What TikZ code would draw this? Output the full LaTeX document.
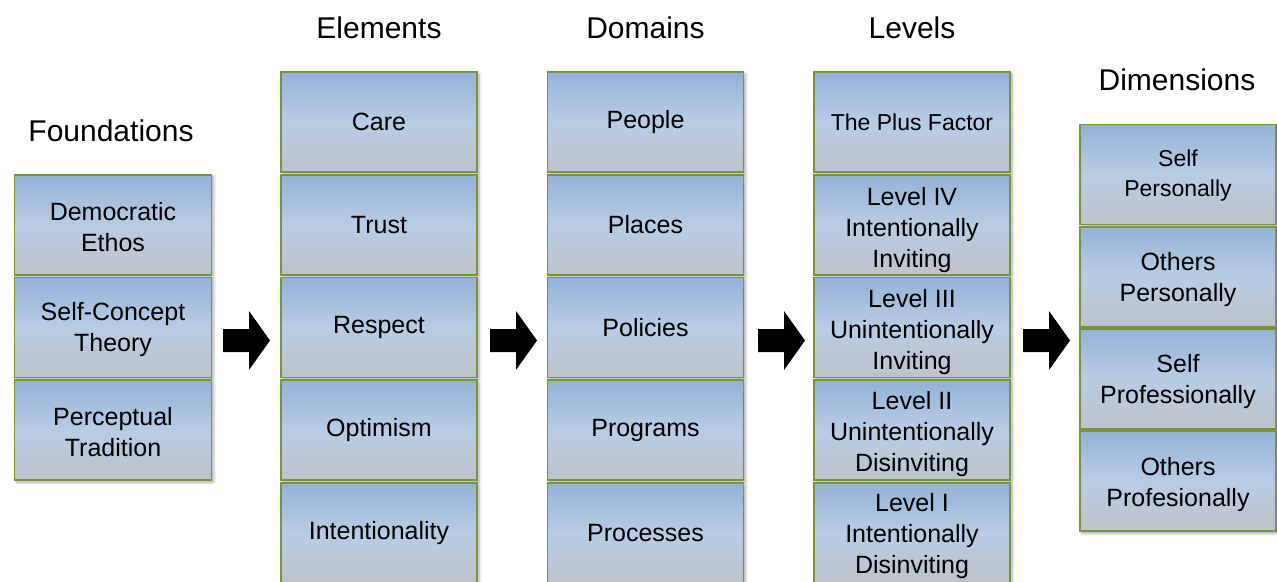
\documentclass[tikz,border=0pt]{standalone}
\usepackage{fontspec}
\setmainfont{Liberation Sans}
\usetikzlibrary{shadows.blur}
\definecolor{boxgreen}{HTML}{77933C}
\definecolor{boxtop}{HTML}{94B2D7}
\definecolor{boxmid}{HTML}{B9CCE5}
\definecolor{boxbot}{HTML}{BEC3CA}
\tikzset{
  box/.style={draw=boxgreen, line width=1.8pt,
    top color=boxtop, bottom color=boxbot, middle color=boxmid,
    minimum width=196pt, minimum height=100pt, inner sep=0pt, align=center,
    font=\fontsize{25}{31}\selectfont,
    blur shadow={shadow xshift=2pt, shadow yshift=-2pt, shadow blur steps=6, shadow opacity=35, shadow blur radius=3pt}},
  btext/.style={inner sep=0pt, align=center, font=\fontsize{25}{31}\selectfont},
  title/.style={font=\fontsize{30}{34}\selectfont, inner sep=0pt},
  blockarrow/.pic={\fill[black] (0,-11.5) -- (26,-11.5) -- (26,-29.5) -- (47,0) -- (26,29.5) -- (26,11.5) -- (0,11.5) -- cycle;}
}
\begin{document}
\begin{tikzpicture}[x=1pt,y=-1pt]
\useasboundingbox (0,0) rectangle (1277,581);
\clip (0,0) rectangle (1277,581);
% titles
\node[title] (tF) at (111,131) {Foundations};
\node[title] (tE) at (379,28) {Elements};
\node[title] (tD) at (645.5,28) {Domains};
\node[title] (tL) at (912,28) {Levels};
\node[title] (tM) at (1177,80) {Dimensions};
% Foundations
\node[box, minimum width=197pt] (f1) at (113,224.75) {};
\node[box, minimum width=197pt] (f2) at (113,327.5) {};
\node[box, minimum width=197pt] (f3) at (113,430.25) {};
\node[btext] (f1t) at ([yshift=-2pt]f1.center) {Democratic\\Ethos};
\node[btext] (f2t) at ([yshift=-2pt]f2.center) {Self-Concept\\Theory};
\node[btext] (f3t) at ([yshift=-2pt]f3.center) {Perceptual\\Tradition};
% Elements
\node[box] (e1) at (379,122) {Care};
\node[box] (e2) at (379,224.75) {Trust};
\node[box] (e3) at (379,327.5) {Respect};
\node[box] (e4) at (379,430.25) {Optimism};
\node[box] (e5) at (379,533) {Intentionality};
% Domains
\node[box] (d1) at (645.5,122) {People};
\node[box] (d2) at (645.5,224.75) {Places};
\node[box] (d3) at (645.5,327.5) {Policies};
\node[box] (d4) at (645.5,430.25) {Programs};
\node[box] (d5) at (645.5,533) {Processes};
% Levels
\node[box, font=\fontsize{23}{31}\selectfont] (l1) at (912,122) {The Plus Factor};
\node[box] (l2) at (912,224.75) {};
\node[box] (l3) at (912,327.5) {};
\node[box] (l4) at (912,430.25) {};
\node[box] (l5) at (912,533) {};
\node[btext] (l2t) at ([yshift=-5pt]l2.center) {Level IV\\Intentionally\\Inviting};
\node[btext] (l3t) at ([yshift=-5pt]l3.center) {Level III\\Unintentionally\\Inviting};
\node[btext] (l4t) at ([yshift=-4pt]l4.center) {Level II\\Unintentionally\\Disinviting};
\node[btext] (l5t) at ([yshift=-3pt]l5.center) {Level I\\Intentionally\\Disinviting};
% Dimensions
\node[box] (m1) at (1178,174.5) {};
\node[box] (m2) at (1178,276.75) {};
\node[box] (m3) at (1178,379) {};
\node[box] (m4) at (1178,481.25) {};
\node[btext, font=\fontsize{23}{30}\selectfont] (m1t) at ([yshift=-1pt]m1.center) {Self\\Personally};
\node[btext] (m2t) at ([yshift=-3pt]m2.center) {Others\\Personally};
\node[btext] (m3t) at ([yshift=-3pt]m3.center) {Self\\Professionally};
\node[btext] (m4t) at ([yshift=-3pt]m4.center) {Others\\Profesionally};
% block arrows
\coordinate (a1) at (223,340.5);
\coordinate (a2) at (490,340.5);
\coordinate (a3) at (758,340.5);
\coordinate (a4) at (1023,340.5);
\pic at (a1) {blockarrow};
\pic at (a2) {blockarrow};
\pic at (a3) {blockarrow};
\pic at (a4) {blockarrow};
\end{tikzpicture}
\end{document}
